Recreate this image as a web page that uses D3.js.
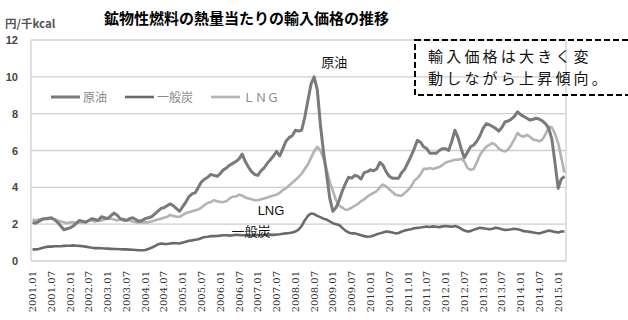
<!DOCTYPE html>
<html>
<head>
<meta charset="utf-8">
<script src="https://cdn.jsdelivr.net/npm/d3@7"></script>
<style>
  html, body { margin: 0; padding: 0; background: #fff; }
  svg { display: block; }
</style>
</head>
<body>
<svg id="chart" width="628" height="320"></svg>
<script>
// Monthly import price per heat unit (円/千kcal), 2001.01 – 2015.03
const crudeOil = [
  2.1, 2.05, 2.15, 2.25, 2.3, 2.3, 2.35, 2.25, 2.1, 1.9,
  1.7, 1.75, 1.8, 1.9, 2.05, 2.2, 2.15, 2.1, 2.2, 2.3,
  2.25, 2.2, 2.4, 2.35, 2.3, 2.45, 2.6, 2.5, 2.3, 2.25,
  2.2, 2.3, 2.35, 2.25, 2.15, 2.2, 2.3, 2.35, 2.4, 2.55,
  2.7, 2.85, 2.9, 3.0, 3.1, 3.0, 2.85, 2.7, 2.95, 3.2,
  3.5, 3.65, 3.7, 4.0, 4.3, 4.45, 4.55, 4.7, 4.65, 4.6,
  4.75, 4.95, 5.05, 5.2, 5.3, 5.4, 5.55, 5.8, 5.4, 5.1,
  4.85, 4.7, 4.65, 4.9, 5.05, 5.3, 5.5, 5.7, 5.95, 5.7,
  6.1, 6.5, 6.7, 6.8, 7.1, 7.05, 7.1, 7.8, 8.7, 9.6,
  10.0, 9.3, 7.4, 5.9, 4.7, 3.4, 2.7, 2.9, 3.3, 3.8,
  4.2, 4.55, 4.5, 4.65, 4.6, 4.45, 4.8, 4.85, 4.95, 4.9,
  5.0, 5.35, 5.2, 4.85, 4.6, 4.5, 4.5, 4.5, 4.8, 5.0,
  5.35, 5.7, 6.1, 6.55, 6.45, 6.2, 6.1, 5.85, 5.85, 5.85,
  6.0, 6.1, 6.1, 6.0, 6.5, 7.1, 6.7, 6.1, 5.6, 5.9,
  6.2, 6.3, 6.5, 6.8, 7.2, 7.45, 7.4, 7.3, 7.2, 7.05,
  7.25, 7.55, 7.6, 7.7, 7.85, 8.1, 7.95, 7.85, 7.75, 7.65,
  7.7, 7.75, 7.7, 7.6, 7.45, 7.2, 6.6, 5.3, 3.95, 4.45,
  4.6
];

const steamCoal = [
  0.63, 0.63, 0.65, 0.7, 0.75, 0.78, 0.78, 0.8, 0.8, 0.8,
  0.82, 0.83, 0.83, 0.85, 0.83, 0.82, 0.8, 0.78, 0.75, 0.72,
  0.7, 0.7, 0.69, 0.68, 0.67, 0.66, 0.65, 0.65, 0.64, 0.63,
  0.63, 0.62, 0.61, 0.6, 0.58, 0.58, 0.6, 0.65, 0.72, 0.8,
  0.9, 0.95, 0.93, 0.92, 0.95, 0.97, 0.96, 0.95, 1.0, 1.05,
  1.1, 1.12, 1.15, 1.18, 1.25, 1.3, 1.32, 1.35, 1.35, 1.36,
  1.38, 1.4, 1.4, 1.38, 1.4, 1.42, 1.41, 1.4, 1.4, 1.38,
  1.4, 1.42, 1.41, 1.4, 1.41, 1.42, 1.43, 1.42, 1.44, 1.45,
  1.48, 1.5, 1.52, 1.55, 1.6, 1.7, 1.9, 2.2, 2.45, 2.58,
  2.55, 2.45, 2.38, 2.3, 2.25, 2.15, 2.05, 2.0, 1.95, 1.8,
  1.65, 1.55, 1.5, 1.5, 1.45, 1.4, 1.35, 1.32, 1.33, 1.38,
  1.45, 1.5, 1.55, 1.6, 1.58, 1.55, 1.5, 1.52, 1.6, 1.65,
  1.7, 1.72, 1.78, 1.8, 1.82, 1.85, 1.87, 1.85, 1.88, 1.86,
  1.84, 1.88, 1.9, 1.88, 1.86, 1.9, 1.85, 1.75, 1.65, 1.6,
  1.62, 1.7, 1.75, 1.8, 1.78, 1.75, 1.72, 1.75, 1.8, 1.78,
  1.72, 1.68, 1.7, 1.72, 1.75, 1.72, 1.68, 1.62, 1.6, 1.58,
  1.55, 1.52, 1.5, 1.55, 1.6, 1.65, 1.62, 1.58, 1.55, 1.6,
  1.6
];

const lng = [
  2.25, 2.2, 2.25, 2.3, 2.3, 2.35, 2.3, 2.25, 2.2, 2.15,
  2.1, 2.05, 2.1, 2.1, 2.05, 2.1, 2.1, 2.15, 2.2, 2.2,
  2.15, 2.2, 2.2, 2.25, 2.3, 2.3, 2.25, 2.2, 2.25, 2.2,
  2.2, 2.2, 2.15, 2.1, 2.1, 2.1, 2.1, 2.1, 2.15, 2.2,
  2.25, 2.3, 2.35, 2.4, 2.5, 2.45, 2.4, 2.4, 2.5, 2.6,
  2.65, 2.7, 2.75, 2.8, 2.9, 3.05, 3.15, 3.2, 3.3, 3.25,
  3.2, 3.2, 3.25, 3.4, 3.5, 3.5, 3.6, 3.55, 3.45, 3.4,
  3.35, 3.3, 3.3, 3.35, 3.4, 3.45, 3.5, 3.55, 3.6, 3.7,
  3.85, 3.95, 4.1, 4.25, 4.4, 4.55, 4.75, 5.0, 5.25, 5.6,
  5.95, 6.2, 6.0, 5.6, 4.95, 4.3, 3.8, 3.3, 3.0, 2.9,
  2.78, 2.8, 2.9, 3.0, 3.1, 3.25, 3.35, 3.5, 3.6, 3.7,
  3.8, 4.0, 4.15, 4.05, 3.9, 3.75, 3.6, 3.55, 3.55, 3.7,
  3.85, 4.05, 4.35, 4.5, 4.7, 5.0, 5.0, 5.05, 5.0, 5.05,
  5.1, 5.2, 5.35, 5.4, 5.45, 5.5, 5.5, 5.55, 5.4, 5.05,
  4.95, 5.0, 5.35, 5.75, 6.0, 6.2, 6.3, 6.4, 6.3, 6.1,
  6.0, 5.95, 6.05, 6.3, 6.6, 6.95, 6.8, 6.75, 6.85, 6.75,
  6.6, 6.55, 6.5, 6.6, 6.9, 7.3, 7.25, 6.9, 6.4, 5.6,
  4.8
];

const tickLabels = [
  "2001.01", "2001.07", "2002.01", "2002.07", "2003.01", "2003.07",
  "2004.01", "2004.07", "2005.01", "2005.07", "2006.01", "2006.07",
  "2007.01", "2007.07", "2008.01", "2008.07", "2009.01", "2009.07",
  "2010.01", "2010.07", "2011.01", "2011.07", "2012.01", "2012.07",
  "2013.01", "2013.07", "2014.01", "2014.07", "2015.01"
];
const yTicks = [0, 2, 4, 6, 8, 10, 12];

// Month categories 2001.01 … 2015.03
const months = [];
for (let y = 2001; y <= 2015; y++) {
  for (let m = 1; m <= 12; m++) {
    if (months.length < crudeOil.length) months.push(y + "." + String(m).padStart(2, "0"));
  }
}

const series = [
  { name: "原油", values: crudeOil, color: "#7a7a7a", width: 3 },
  { name: "一般炭", values: steamCoal, color: "#6a6a6a", width: 2.6 },
  { name: "ＬＮＧ", values: lng, color: "#b3b3b3", width: 2.6 }
];

const svg = d3.select("#chart");
const plot = { left: 31, right: 566, top: 40, bottom: 261 };

const x = d3.scaleBand().domain(months).range([plot.left, plot.right]).paddingInner(0).paddingOuter(0);
const cx = d => x(d) + x.bandwidth() / 2;
const y = d3.scaleLinear().domain([0, 12]).range([plot.bottom, plot.top]);

const jp = "'Noto Sans CJK JP', 'Noto Sans', sans-serif";

// Horizontal gridlines
svg.append("g")
  .selectAll("line")
  .data(yTicks)
  .join("line")
  .attr("x1", plot.left).attr("x2", plot.right)
  .attr("y1", d => y(d)).attr("y2", d => y(d))
  .attr("stroke", "#cfcfcf").attr("stroke-width", 1.3);

// Plot frame sides
svg.append("line").attr("x1", plot.left).attr("x2", plot.left)
  .attr("y1", plot.top).attr("y2", plot.bottom).attr("stroke", "#cfcfcf").attr("stroke-width", 1.3);
svg.append("line").attr("x1", plot.right).attr("x2", plot.right)
  .attr("y1", plot.top).attr("y2", plot.bottom).attr("stroke", "#cfcfcf").attr("stroke-width", 1.3);

// Y axis labels
const yAxis = d3.axisLeft(y).tickValues(yTicks).tickSize(0).tickPadding(13);
svg.append("g").attr("transform", `translate(${plot.left},0)`).call(yAxis)
  .call(g => g.select(".domain").remove())
  .call(g => g.selectAll("text")
    .attr("font-family", "'Liberation Sans', Arial, sans-serif")
    .attr("font-size", 11).attr("font-weight", "bold").attr("fill", "#444"));

// X axis labels, every six months, rotated
const xAxis = d3.axisBottom(x).tickValues(tickLabels).tickSize(0).tickPadding(0);
svg.append("g").attr("transform", `translate(0,${plot.bottom})`).call(xAxis)
  .call(g => g.select(".domain").remove())
  .call(g => g.selectAll("text")
    .attr("font-family", "'DejaVu Serif', 'Liberation Serif', serif")
    .attr("font-size", 10).attr("fill", "#333")
    .attr("text-anchor", "end")
    .attr("dy", "0.35em")
    .attr("transform", "translate(0,10) rotate(-90)")
    .attr("x", 0).attr("y", 0));

// Series lines
const line = d3.line().x((d, i) => cx(months[i])).y(d => y(d)).curve(d3.curveLinear);
svg.append("g")
  .selectAll("path")
  .data([series[2], series[1], series[0]])
  .join("path")
  .attr("d", s => line(s.values))
  .attr("fill", "none")
  .attr("stroke", s => s.color)
  .attr("stroke-width", s => s.width)
  .attr("stroke-linejoin", "round");

// Legend
const legendItems = [
  { s: series[0], x: 51 },
  { s: series[1], x: 125 },
  { s: series[2], x: 211 }
];
const lg = svg.append("g");
legendItems.forEach(it => {
  lg.append("line").attr("x1", it.x).attr("x2", it.x + 29)
    .attr("y1", 97).attr("y2", 97)
    .attr("stroke", it.s.color).attr("stroke-width", it.s.width);
  lg.append("text").attr("x", it.x + 32).attr("y", 101.5)
    .attr("font-family", jp).attr("font-size", 12).attr("fill", "#8a8a8a")
    .text(it.s.name);
});

// Series labels on the chart
const peakIdx = crudeOil.indexOf(d3.max(crudeOil));
svg.append("text").attr("x", cx(months[peakIdx]) + 20).attr("y", y(crudeOil[peakIdx]) - 10)
  .attr("text-anchor", "middle").attr("font-family", jp).attr("font-size", 13)
  .attr("fill", "#111").text("原油");
svg.append("text").attr("x", 271).attr("y", 215)
  .attr("text-anchor", "middle").attr("font-family", "'Liberation Sans', Arial, sans-serif").attr("font-size", 13)
  .attr("fill", "#111").text("LNG");
svg.append("text").attr("x", 251).attr("y", 235.5)
  .attr("text-anchor", "middle").attr("font-family", jp).attr("font-size", 13)
  .attr("fill", "#111").text("一般炭");

// Title and unit
svg.append("text").attr("x", 104).attr("y", 24)
  .attr("font-family", jp).attr("font-size", 15).attr("font-weight", "bold")
  .attr("fill", "#000").text("鉱物性燃料の熱量当たりの輸入価格の推移");
svg.append("text").attr("x", 5).attr("y", 28)
  .attr("font-family", jp).attr("font-size", 11.5).attr("font-weight", "bold")
  .attr("fill", "#555").text("円/千kcal");

// Annotation box
svg.append("rect").attr("x", 415).attr("y", 40).attr("width", 220).attr("height", 55)
  .attr("fill", "none").attr("stroke", "#000").attr("stroke-width", 2)
  .attr("stroke-dasharray", "6,3");
const noteLines = ["輸入価格は大きく変", "動しながら上昇傾向。"];
svg.append("g").selectAll("text")
  .data(noteLines)
  .join("text")
  .attr("x", 428).attr("y", (d, i) => 62 + i * 22)
  .attr("font-family", jp).attr("font-size", 15).attr("fill", "#111")
  .attr("letter-spacing", 3.2)
  .text(d => d);
</script>
</body>
</html>
